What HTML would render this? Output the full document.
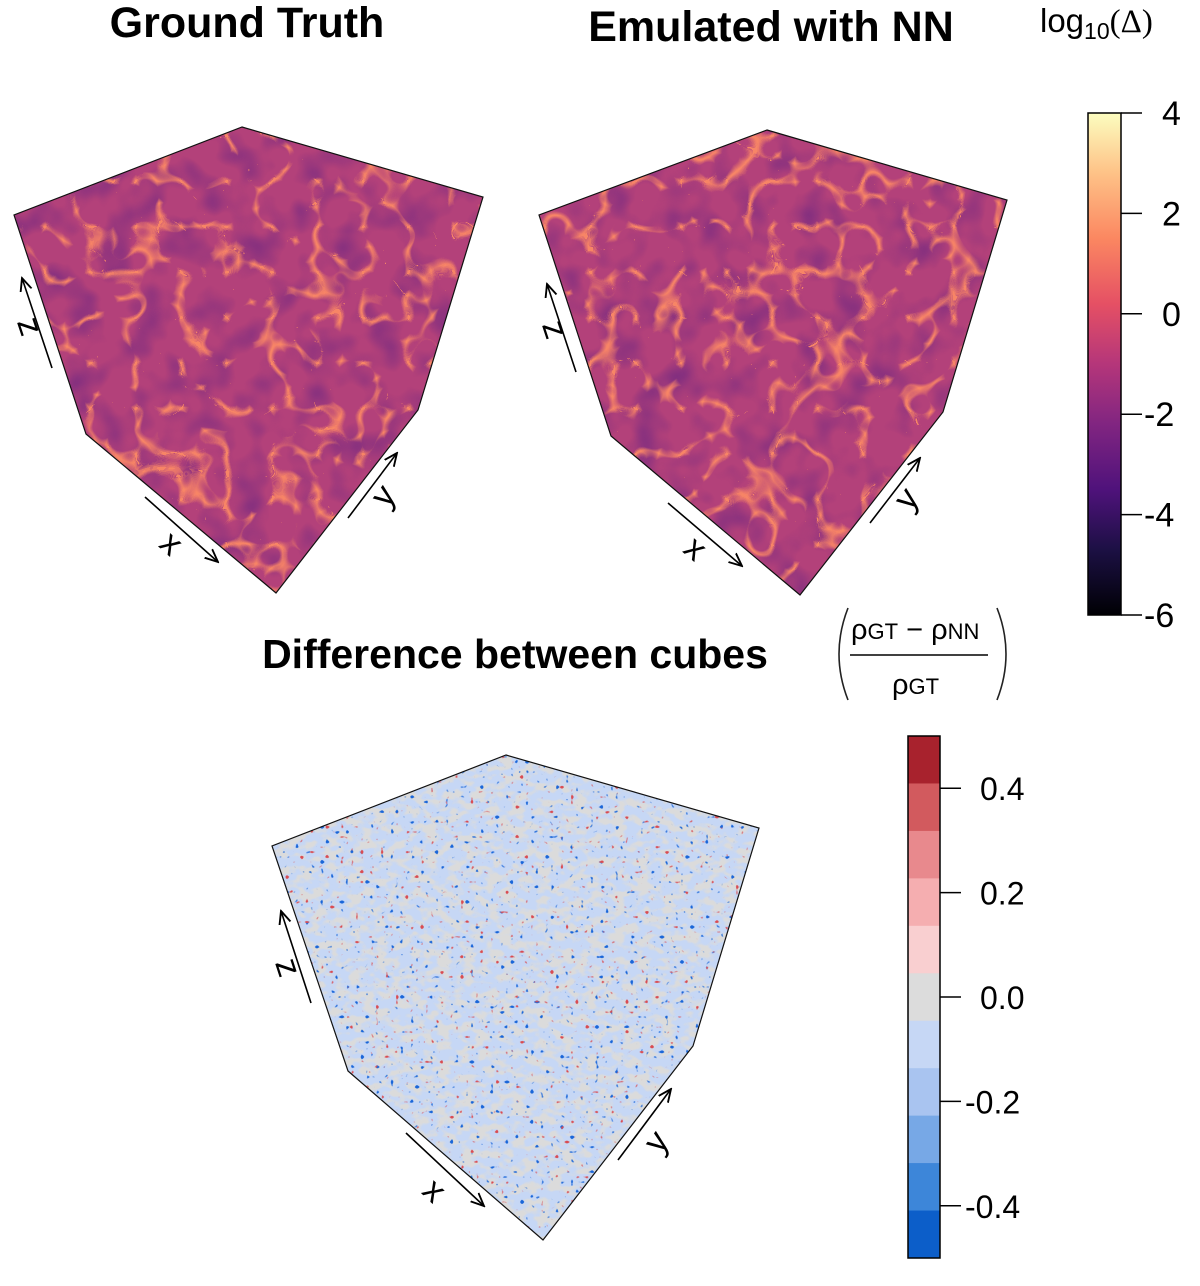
<!DOCTYPE html>
<html><head><meta charset="utf-8"><style>
html,body{margin:0;padding:0;background:#fff;}
svg{display:block;font-family:"Liberation Sans",sans-serif;}
</style></head><body>
<svg id="chart" width="1200" height="1286" viewBox="0 0 1200 1286">
<defs>
<filter id="magmaTex" x="0" y="0" width="100%" height="100%" color-interpolation-filters="sRGB">
<feTurbulence type="turbulence" baseFrequency="0.022" numOctaves="2" seed="4" result="n"/>
<feColorMatrix type="matrix" in="n" values="0 0 0 0 0.97  0 0 0 0 0.52  0 0 0 0 0.4  -7 0 0 0 1.1" result="lines"/>
<feTurbulence type="fractalNoise" baseFrequency="0.03" numOctaves="2" seed="9" result="m"/>
<feColorMatrix type="matrix" in="m" values="0 0 0 0 0.5  0 0 0 0 0.18  0 0 0 0 0.5  2.2 0 0 0 -1.0" result="dark"/>
<feMerge><feMergeNode in="dark"/><feMergeNode in="lines"/></feMerge>
</filter>
<filter id="diffTex" x="0" y="0" width="100%" height="100%" color-interpolation-filters="sRGB">
<feTurbulence type="fractalNoise" baseFrequency="0.08 0.12" numOctaves="2" seed="7" result="n"/>
<feColorMatrix type="matrix" in="n" values="0 0 0 0 0.86  0 0 0 0 0.86  0 0 0 0 0.86  6 0 0 0 -2.7" result="gray"/>
<feTurbulence type="fractalNoise" baseFrequency="0.2" numOctaves="1" seed="3" result="s"/>
<feColorMatrix type="matrix" in="s" values="0 0 0 0 0.1  0 0 0 0 0.4  0 0 0 0 0.85  14 0 0 0 -9.6" result="blue"/>
<feTurbulence type="fractalNoise" baseFrequency="0.2" numOctaves="1" seed="11" result="s2"/>
<feColorMatrix type="matrix" in="s2" values="0 0 0 0 0.85  0 0 0 0 0.3  0 0 0 0 0.32  14 0 0 0 -9.8" result="red"/>
<feMerge><feMergeNode in="gray"/><feMergeNode in="blue"/><feMergeNode in="red"/></feMerge>
</filter>
<linearGradient id="magmaGrad" x1="0" y1="1" x2="0" y2="0">
<stop offset="0" stop-color="#000004"/><stop offset="0.13" stop-color="#1c1044"/>
<stop offset="0.25" stop-color="#4f127b"/><stop offset="0.38" stop-color="#812581"/>
<stop offset="0.5" stop-color="#b5367a"/><stop offset="0.62" stop-color="#e55064"/>
<stop offset="0.75" stop-color="#fb8761"/><stop offset="0.88" stop-color="#fec287"/>
<stop offset="1" stop-color="#fcfdbf"/></linearGradient>
<marker id="arr" viewBox="0 0 10 10" refX="9" refY="5" markerWidth="9" markerHeight="9" orient="auto"><path d="M0,1 L9,5 L0,9" fill="none" stroke="#000" stroke-width="1.3"/></marker>
</defs>
<text x="247" y="37" text-anchor="middle" font-size="43" font-weight="bold">Ground Truth</text>
<text x="771" y="41" text-anchor="middle" font-size="43" font-weight="bold">Emulated with NN</text>
<text x="515" y="668" text-anchor="middle" font-size="41" font-weight="bold">Difference between cubes</text>
<text x="1040" y="32" font-size="33">log<tspan font-size="23" dy="7">10</tspan><tspan dy="-7" font-family="Liberation Serif">(Δ)</tspan></text>
<g font-size="29">
<path d="M848,608 Q830,654 848,700" fill="none" stroke="#222" stroke-width="1.6"/>
<path d="M997,608 Q1015,654 997,700" fill="none" stroke="#222" stroke-width="1.6"/>
<text x="851" y="639">ρ<tspan font-size="22">GT</tspan> − ρ<tspan font-size="22">NN</tspan></text>
<line x1="850" y1="655" x2="988" y2="655" stroke="#000" stroke-width="1.5"/>
<text x="892" y="694">ρ<tspan font-size="22">GT</tspan></text>
</g>
<g id="cubes"></g>
<g id="cbars"></g>
</svg>
<script>
const magmaTicks=[4,2,0,-2,-4,-6];
const magmaRange=[-6,4];
const diffTicks=[0.4,0.2,0.0,-0.2,-0.4];
const diffLabels=["0.4","0.2","0.0","-0.2","-0.4"];
const diffRange=[-0.5,0.5];
const diffColors=["#a8222d","#d25a5e","#e8898d","#f5aeb0","#f9cfd0","#dcdcdc","#c6d7f5","#a9c4f0","#77a8e6","#3d86d9","#0c5ec9"];
const NS="http://www.w3.org/2000/svg";
function mk(t,a,p){const e=document.createElementNS(NS,t);for(const k in a)e.setAttribute(k,a[k]);p.appendChild(e);return e;}
const cubesG=document.getElementById('cubes');
const cubes=[
 {n:'ground-truth',pts:[[242,127],[483,197],[418,410],[276,593],[86,434],[14,215]],base:'#b3417a',tex:'magmaTex',
  z:[[52,368],[22,278]],x:[[145,497],[218,562]],y:[[348,518],[397,453]],lz:[28,327],lx:[170,545],ly:[385,497]},
 {n:'emulated',pts:[[767,130],[1007,200],[943,412],[800,595],[611,436],[539,215]],base:'#b3417a',tex:'magmaTex',
  z:[[576,372],[547,284]],x:[[668,503],[742,566]],y:[[870,523],[920,458]],lz:[553,330],lx:[694,550],ly:[908,500]},
 {n:'difference',pts:[[506,755],[759,828],[693,1046],[543,1240],[348,1071],[272,846]],base:'#c6d7f5',tex:'diffTex',
  z:[[311,1003],[281,911]],x:[[406,1133],[484,1206]],y:[[618,1160],[671,1089]],lz:[286,968],lx:[433,1192],ly:[658,1143]}
];
cubes.forEach((c,i)=>{
 const g=mk('g',{},cubesG);
 
 
 const p=c.pts.map(q=>q.join(',')).join(' ');
 mk('clipPath',{id:'cl'+i},g).appendChild(document.createElementNS(NS,'polygon')).setAttribute('points',p);
 mk('polygon',{points:p,fill:c.base},g);
 mk('rect',{x:0,y:0,width:1200,height:1286,filter:'url(#'+c.tex+')','clip-path':'url(#cl'+i+')'},g);
 mk('polygon',{points:p,fill:'none',stroke:'#111','stroke-width':1.2},g);
 [['z',c.z,c.lz],['x',c.x,c.lx],['y',c.y,c.ly]].forEach(([nm,l,lp])=>{
  const ln=mk('line',{x1:l[0][0],y1:l[0][1],x2:l[1][0],y2:l[1][1],stroke:'#000','stroke-width':1.6,'marker-end':'url(#arr)'},g);
  
  
  const ang=Math.atan2(l[1][1]-l[0][1],l[1][0]-l[0][0])*180/Math.PI;
  const t=mk('text',{x:lp[0],y:lp[1],'font-size':34,'text-anchor':'middle','dominant-baseline':'middle',transform:`rotate(${nm==='z'?ang+180:ang} ${lp[0]} ${lp[1]})`},g);
  t.textContent=nm;
  
  
 });
});
const cb=document.getElementById('cbars');
const mx=1088,mw=33,mTop=113,mBot=615;
const my=v=>mBot-(v-magmaRange[0])/(magmaRange[1]-magmaRange[0])*(mBot-mTop);
const mg=mk('g',{},cb);


mk('rect',{x:mx,y:my(magmaRange[1]),width:mw,height:my(magmaRange[0])-my(magmaRange[1]),fill:'url(#magmaGrad)',stroke:'#000','stroke-width':1.5},mg);
magmaTicks.forEach(v=>{
 mk('line',{x1:mx+mw,x2:mx+mw+21,y1:my(v),y2:my(v),stroke:'#000','stroke-width':1.5},mg);
 const t=mk('text',{x:v<0?1144:1162,y:my(v)+12,'font-size':34},mg);
 t.textContent=String(v);
 
 
});
const dx=908,dw=32,dTop=736,dBot=1258;
const dy=v=>dBot-(v-diffRange[0])/(diffRange[1]-diffRange[0])*(dBot-dTop);
const dg=mk('g',{},cb);


const bh=(dBot-dTop)/diffColors.length;
diffColors.forEach((col,i)=>{
 const r=mk('rect',{x:dx,y:dTop+i*bh,width:dw,height:bh+0.5,fill:col},dg);
 
 
});
mk('rect',{x:dx,y:dTop,width:dw,height:dBot-dTop,fill:'none',stroke:'#000','stroke-width':1.5},dg);
diffTicks.forEach((v,i)=>{
 mk('line',{x1:dx+dw,x2:dx+dw+21,y1:dy(v),y2:dy(v),stroke:'#000','stroke-width':1.5},dg);
 const t=mk('text',{x:v<0?965:980,y:dy(v)+12,'font-size':32},dg);
 t.textContent=diffLabels[i];
 
 
});
</script>
</body></html>
